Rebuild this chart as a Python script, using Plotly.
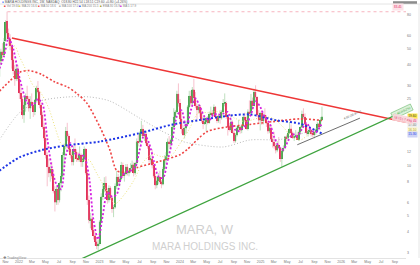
import math
import pandas as pd
import plotly.graph_objects as go

# ---------------- weekly OHLC (weeks starting Monday) ----------------
first_week = "2021-09-27"

open_2021 = [33, 34, 42, 48, 46, 56, 73, 62, 57, 52, 43, 37, 33, 38]
high_2021 = [36, 43, 50, 54, 58, 74, 83.4, 66, 61, 54, 47, 40, 40, 40]
low_2021 = [30, 33, 40, 44, 45, 55, 61, 53, 49, 38, 35, 30, 32, 32]
close_2021 = [34, 42, 48, 46, 55, 72, 62, 57, 52, 43, 37, 33, 38, 33]

open_2022 = [33, 27, 25, 20, 23, 26, 25, 22, 24, 23, 21, 24.5, 29, 27.5, 23, 20, 17, 14.5, 11.5, 9.8,
             9, 9.5, 8.6, 7, 6, 7.2, 6.2, 7.8, 8.6, 11.5, 13, 16, 15, 12.5, 11.5, 10.5, 12.5, 12, 11, 10.8,
             11.5, 10.5, 11, 12.5, 9, 6.2, 4.7, 4.8, 4.1, 3.8, 3.5, 3.3]
high_2022 = [34, 30, 26, 24, 27, 30, 26, 26, 27, 24, 25, 30, 32, 28, 24, 21, 18, 16, 12, 11,
             10, 10.5, 9.5, 7.5, 7.5, 7.5, 8, 9, 12, 13.5, 17, 18, 15.5, 13, 12, 13, 14.5, 12.5, 12, 13,
             11.8, 11.5, 13, 12.7, 9.5, 6.6, 5.2, 5, 4.4, 4, 3.7, 3.6]
low_2022 = [25, 24, 19, 18, 21, 24, 21, 19, 22, 19.5, 20, 24, 27, 22, 19, 16.5, 14, 11, 7.5, 8.5,
            8, 8.3, 6.8, 5.3, 5.8, 5.8, 6, 7, 8.5, 10, 12.5, 14, 12, 11, 10, 10, 11.5, 10.5, 10.5, 10.5,
            9.8, 9.8, 10.6, 8.8, 5.8, 4.5, 4.2, 4, 3.6, 3.3, 3.15, 3.11]
close_2022 = [27, 25, 20, 23, 26, 25, 22, 24, 23, 21, 24.5, 29, 27.5, 23, 20, 17, 14.5, 11.5, 9.8, 9,
              9.5, 8.6, 7, 6, 7.2, 6.2, 7.8, 8.6, 11.5, 13, 16, 15, 12.5, 11.5, 10.5, 12.5, 12, 11, 10.8, 11.5,
              10.5, 11, 12.5, 9, 6.2, 4.7, 4.8, 4.1, 3.8, 3.5, 3.3, 3.4]

open_2023 = [3.4, 4.6, 6.5, 7.2, 7.8, 7, 6.2, 7.3, 6.4, 5.5, 5.6, 7.5, 8.5, 8, 8.3, 10, 8.7, 8.9, 9.8, 9,
             9.3, 9.6, 10.1, 9, 10.3, 13.9, 13.8, 15.7, 16.5, 15, 15.5, 13.6, 13, 10.8, 11, 10, 8.6, 7.6, 8.1, 8.5,
             8, 7.7, 9.5, 10.8, 11.4, 13.9, 13.5, 14.2, 17, 19.5, 21, 26.8]
high_2023 = [4.7, 6.8, 7.8, 8.5, 8.6, 7.3, 7.6, 7.5, 6.6, 5.8, 7.8, 9.3, 8.9, 8.6, 10.5, 10.4, 9.2, 10.2, 10.2, 9.6,
             10.3, 10.7, 10.4, 10.5, 14.5, 15.3, 16, 18.5, 17.5, 16.2, 16, 14.4, 13.1, 11.5, 12.5, 10.2, 9, 8.6, 9, 9.3,
             8.2, 9.8, 11.5, 12, 14.5, 15, 14.5, 17.5, 22, 21.5, 28, 31]
low_2023 = [3.3, 4.5, 6.2, 6.9, 6.8, 5.9, 6, 6.2, 5.2, 4.9, 5.5, 7.2, 7.6, 7.5, 8.2, 8.4, 8, 8.7, 8.7, 8.6,
            9, 9.3, 8.6, 8.8, 10.2, 13, 13.5, 15, 14.5, 14, 13.2, 12.6, 10.4, 10.2, 9.6, 8.4, 7.2, 7.3, 7.7, 7.8,
            7.3, 7.6, 9.2, 10.2, 11, 12.8, 12.5, 14, 16.5, 17.5, 20.5, 22.5]
close_2023 = [4.6, 6.5, 7.2, 7.8, 7, 6.2, 7.3, 6.4, 5.5, 5.6, 7.5, 8.5, 8, 8.3, 10, 8.7, 8.9, 9.8, 9, 9.3,
              9.6, 10.1, 9, 10.3, 13.9, 13.8, 15.7, 16.5, 15, 15.5, 13.6, 13, 10.8, 11, 10, 8.6, 7.6, 8.1, 8.5, 8,
              7.7, 9.5, 10.8, 11.4, 13.9, 13.5, 14.2, 17, 19.5, 21, 26.8, 23.5]

open_2024 = [23.5, 19, 16.5, 15.3, 16.7, 17.7, 22.5, 26, 23.5, 28.5, 25.5, 22.7, 21.5, 22.5, 20.5, 18.5, 17.8, 18.2,
             19.2, 18, 20.3, 20.6, 20.2, 22.4, 19.5, 18.5, 19.8, 19.2, 21, 23.5, 23.5, 19.5, 17, 16.4, 18.2, 15.7,
             14, 15.2, 16.8, 17, 16.2, 17.3, 19.5, 18.6, 16.6, 21, 20.5, 24.4, 22.8, 27.5, 25.6, 20, 18.6]
high_2024 = [25, 21, 17.5, 17, 18.5, 23, 28, 28, 29.5, 33, 27.5, 23.5, 23.3, 23, 22, 19.5, 20, 19.5,
             19.8, 21, 22.5, 21.5, 23.2, 22.7, 20, 20.5, 21.5, 21.5, 25, 27, 24.2, 19.7, 18, 19, 18.6, 16.2,
             15.6, 17.3, 18.7, 17.3, 17.5, 19.9, 20.7, 19.6, 21.7, 24.5, 26.8, 25.5, 28.8, 30.2, 25.9, 21.5, 21]
low_2024 = [18, 15.5, 15, 14.5, 15.5, 17.5, 22, 22.5, 23, 24, 22, 18.8, 20.5, 19.5, 18, 16.5, 17.5, 16,
            17.6, 17.8, 19.5, 19.4, 20, 19, 17.9, 18, 17.8, 18.8, 20.5, 22.6, 19, 15.1, 16, 15.9, 15.5, 13.6,
            13.7, 14.9, 16.2, 15.5, 15.6, 17, 18.2, 16.4, 16.2, 19.8, 20, 21.5, 22.6, 24, 19.5, 18, 16.2]
close_2024 = [19, 16.5, 15.3, 16.7, 17.7, 22.5, 26, 23.5, 28.5, 25.5, 22.7, 21.5, 22.5, 20.5, 18.5, 17.8, 18.2, 19.2,
              18, 20.3, 20.6, 20.2, 22.4, 19.5, 18.5, 19.8, 19.2, 21, 23.5, 23.5, 19.5, 17, 16.4, 18.2, 15.7, 14,
              15.2, 16.8, 17, 16.2, 17.3, 19.5, 18.6, 16.6, 21, 20.5, 24.4, 22.8, 27.5, 25.6, 20, 18.6, 20.5]

open_2025 = [20.5, 18.5, 20, 19.5, 17.9, 16, 16.8, 14.4, 13.8, 13, 12.3, 13.2, 12.7, 11, 12.2, 12.7, 14.9, 14.5,
             15.6, 16.6, 15.7, 14.6, 14.9, 15.2, 14.3, 15.8, 16.9, 20.3, 19.5, 17.6, 15.6, 16, 16.2, 15.4, 15.3,
             15.8, 16.4, 17.8, 17.1, 18.8]
high_2025 = [21.5, 20.5, 22, 20, 18.3, 17.5, 17.5, 15.2, 15.9, 13.6, 14, 14.8, 12.9, 12.8, 13.2, 15, 15.3, 15.9,
             18.2, 17.6, 16, 15.7, 16.3, 15.9, 16.2, 17.3, 21.3, 22, 20.5, 17.9, 16.5, 17.2, 16.5, 16, 16.2,
             16.6, 18.3, 18, 19.5, 22.5]
low_2025 = [17.5, 17.6, 18.5, 17, 15.5, 15.6, 14.2, 12.8, 12.6, 11.8, 12, 12.5, 10.5, 9.8, 12, 12.6, 13.8, 14,
            15.4, 15.4, 14.5, 14, 14.6, 14.2, 14, 15.3, 16.8, 18.9, 17.4, 15.3, 14.9, 15.5, 14.9, 14.8, 14.5,
            15.2, 16, 16.5, 17, 18.5]
close_2025 = [18.5, 20, 19.5, 17.9, 16, 16.8, 14.4, 13.8, 13, 12.3, 13.2, 12.7, 11, 12.2, 12.7, 14.9, 14.5, 15.6,
              16.6, 15.7, 14.6, 14.9, 15.2, 14.3, 15.8, 16.9, 20.3, 19.5, 17.6, 15.6, 16, 16.2, 15.4, 15.3, 15.8,
              16.4, 17.8, 17.1, 18.8, 19.6]

# ---------------- moving averages ----------------
ma_fast_dates = ["2021-10-04", "2021-10-25", "2021-11-15", "2021-12-06", "2021-12-27",
                 "2022-01-17", "2022-02-07", "2022-03-07", "2022-03-28", "2022-04-18", "2022-05-09", "2022-05-30",
                 "2022-06-20", "2022-07-11", "2022-08-01", "2022-08-22", "2022-09-12", "2022-10-03", "2022-10-24",
                 "2022-11-14", "2022-12-05", "2022-12-26",
                 "2023-01-16", "2023-02-06", "2023-02-27", "2023-03-20", "2023-04-10", "2023-05-01", "2023-05-22",
                 "2023-06-12", "2023-07-03", "2023-07-24", "2023-08-14", "2023-09-04", "2023-09-25", "2023-10-16",
                 "2023-11-06", "2023-11-27", "2023-12-18",
                 "2024-01-08", "2024-01-29", "2024-02-19", "2024-03-11", "2024-04-01", "2024-04-22", "2024-05-13",
                 "2024-06-03", "2024-06-24", "2024-07-15", "2024-08-05", "2024-08-26", "2024-09-16", "2024-10-07",
                 "2024-10-28", "2024-11-18", "2024-12-09", "2024-12-30",
                 "2025-01-20", "2025-02-10", "2025-03-03", "2025-03-24", "2025-04-14", "2025-05-05", "2025-05-26",
                 "2025-06-16", "2025-07-07", "2025-07-28", "2025-08-18", "2025-09-08", "2025-09-29", "2025-10-06"]
ma_fast_values = [38, 45, 58, 50, 37,
                  28.6, 23.8, 23, 25, 23.3, 14.6, 9.7, 7.7, 7.2, 11.4, 13.6, 11.8, 11.6, 11.3, 8.7, 4.7, 3.6,
                  5.0, 6.9, 6.5, 6.7, 8.5, 9.1, 9.3, 9.7, 12.5, 15.3, 13.6, 10.7, 8.6, 8.4, 10.7, 14, 19.7,
                  21.4, 17, 21.3, 25.2, 22.5, 19.5, 18.7, 20.3, 20.1, 20.4, 20.9, 17.4, 16, 16.5, 17.6, 20.2, 24.2, 22.4,
                  19.4, 18, 14.8, 13, 12.4, 14, 15.4, 14.9, 16.5, 18, 16.2, 15.8, 17.2, 17.9]

ma_slow_dates = ["2021-10-04", "2021-11-15", "2021-12-13", "2022-01-03", "2022-02-07", "2022-03-07", "2022-04-04",
                 "2022-05-16", "2022-06-13", "2022-07-11", "2022-08-01", "2022-09-12", "2022-10-17", "2022-11-14",
                 "2022-12-19", "2023-01-30", "2023-03-13", "2023-04-24", "2023-06-05", "2023-07-17", "2023-08-28",
                 "2023-10-09", "2023-11-20", "2024-01-01", "2024-02-12", "2024-03-25", "2024-05-06", "2024-06-17",
                 "2024-07-29", "2024-09-09", "2024-10-21", "2024-12-02", "2025-01-13", "2025-02-24", "2025-04-07",
                 "2025-05-19", "2025-06-30", "2025-08-11", "2025-09-22", "2025-10-06"]
ma_slow_values = [40, 52, 52, 45, 36, 30, 28, 22, 17, 13.5, 13, 11, 10.7, 10.8, 9.0, 7.2, 5.9, 6.7, 8.1, 10.4,
                  11.7, 11.3, 11.4, 13.5, 16.5, 20.7, 20.7, 21, 20.3, 19.1, 18.3, 18.9, 19.5, 19.2, 17.3, 15.1,
                  14.2, 15.5, 16.3, 16.6]

ma_mid_dates = ["2021-10-04", "2021-11-20", "2022-01-05", "2022-02-15", "2022-04-15", "2022-06-15", "2022-08-07",
                "2022-09-20", "2022-11-04", "2023-01-03", "2023-02-17", "2023-03-21", "2023-05-01", "2023-06-19",
                "2023-10-02", "2024-01-01", "2024-02-01", "2024-05-02", "2024-08-01", "2024-11-13", "2025-02-26",
                "2025-06-28", "2025-10-06"]
ma_mid_values = [27.8, 32, 36.2, 37, 35, 31.5, 29.6, 27, 23.7, 17.0, 12.4, 9.3, 9.1, 9.7, 10.6, 11.6, 12.4, 15.9,
                 17.0, 17.6, 18.3, 19.0, 18.6]

ma_long_dates = ["2021-10-04", "2022-01-05", "2022-04-05", "2022-08-07", "2022-11-18", "2023-02-17", "2023-07-02",
                 "2023-10-02", "2023-11-29", "2024-01-14", "2024-07-14", "2024-11-13", "2025-03-30", "2025-06-28",
                 "2025-10-06"]
ma_long_values = [14.2, 20.8, 24.3, 25.7, 25.7, 24.3, 19.2, 16.3, 14.9, 13.9, 12.9, 14.2, 14.3, 15.4, 17.0]

ma_vlong_dates = ["2021-10-04", "2022-01-05", "2022-04-18", "2022-08-07", "2023-01-03", "2023-07-02", "2023-11-29",
                  "2024-03-30", "2024-08-01", "2024-11-13", "2025-03-16", "2025-06-28", "2025-10-06"]
ma_vlong_values = [9.3, 11.2, 12.4, 13.2, 13.9, 15.6, 17.6, 18.7, 19.8, 20.2, 18.6, 17.8, 15.5]

# ---------------- drawn trend lines (anchor points) ----------------
res_dates = ["2021-11-30", "2026-10-22"]
res_values = [58.0, 18.15]
sup_dates = ["2022-09-21", "2026-10-22"]
sup_values = [2.68, 21.4]
chan_dates = ["2025-06-16", "2026-03-27"]
chan_values = [13.3, 19.2]
ath_dates = ["2021-11-10", "2026-10-22"]
ath_values = [83.3, 83.3]

# ---------------- axis ticks / labels ----------------
xtick_dates = ["2021-11-01",
               "2022-01-01", "2022-03-01", "2022-05-01", "2022-07-01", "2022-09-01", "2022-11-01",
               "2023-01-01", "2023-03-01", "2023-05-01", "2023-07-01", "2023-09-01", "2023-11-01",
               "2024-01-01", "2024-03-01", "2024-05-01", "2024-07-01", "2024-09-01", "2024-11-01",
               "2025-01-01", "2025-03-01", "2025-05-01", "2025-07-01", "2025-09-01", "2025-11-01",
               "2026-01-01", "2026-03-01", "2026-05-01", "2026-07-01", "2026-09-01", "2026-11-01"]
xtick_text = ["Nov",
              "2022", "Mar", "May", "Jul", "Sep", "Nov",
              "2023", "Mar", "May", "Jul", "Sep", "Nov",
              "2024", "Mar", "May", "Jul", "Sep", "Nov",
              "2025", "Mar", "May", "Jul", "Sep", "Nov",
              "2026", "Mar", "May", "Jul", "Sep", "Nov"]
ytick_vals = [3, 4, 5, 6, 8, 10, 12, 25, 30, 40, 50, 60, 80]

price_label_values = [19.6, 18.45, 17.4, 16.1, 15.3]
price_label_bg = ["#FFE94D", "#FBD3DE", "#EEEEEE", "#FFF8C8", "#CDD2F5"]
price_label_fg = ["#333333", "#E0245A", "#777777", "#A09A50", "#1E3AE8"]

legend_labels = ["Vol 19.60", "MA 20 16.6", "MA 50 18.6", "MA 100 17.0", "MA 200 15.5", "EMA 30 16.9", "MA 5 17.9"]
legend_colors = ["#E53935", "#E8D84A", "#EF4444", "#AAAAAA", "#2138E0", "#9E9D24", "#D42AD8"]
legend_px = [2, 17, 36, 57, 77, 98, 118]

# ---------------- build ----------------
opens = open_2021 + open_2022 + open_2023 + open_2024 + open_2025
highs = high_2021 + high_2022 + high_2023 + high_2024 + high_2025
lows = low_2021 + low_2022 + low_2023 + low_2024 + low_2025
closes = close_2021 + close_2022 + close_2023 + close_2024 + close_2025
dates = pd.date_range(first_week, periods=len(closes), freq="W-MON")

up_x, up_b, up_h, dn_x, dn_b, dn_h = [], [], [], [], [], []
for d, o, c in zip(dates, opens, closes):
    lo, hi = min(o, c), max(o, c)
    if c >= o:
        up_x.append(d); up_b.append(lo); up_h.append(max(hi - lo, lo * 0.01))
    else:
        dn_x.append(d); dn_b.append(lo); dn_h.append(max(hi - lo, lo * 0.01))

fig = go.Figure()

# candle wicks (pale)
fig.add_trace(go.Candlestick(
    x=dates, open=opens, high=highs, low=lows, close=closes,
    increasing=dict(line=dict(color="rgba(110,185,110,0.45)", width=1), fillcolor="rgba(110,185,110,0.45)"),
    decreasing=dict(line=dict(color="rgba(235,100,130,0.40)", width=1), fillcolor="rgba(235,100,130,0.40)"),
    whiskerwidth=0, hoverinfo="none", showlegend=False))

# moving averages
def ma(xs, ys, color, width, dash):
    fig.add_trace(go.Scatter(x=xs, y=ys, mode="lines", hoverinfo="skip", showlegend=False,
                             line=dict(color=color, width=width, dash=dash, shape="spline", smoothing=0.8)))

ma(ma_long_dates, ma_long_values, "#B8B8B8", 1, "1px,2px")
ma(ma_slow_dates, ma_slow_values, "#EDE27A", 1, "1px,2px")
ma(ma_mid_dates, ma_mid_values, "#EF4444", 1.6, "2px,2px")

# candle bodies
week_ms = 7 * 24 * 3600 * 1000
fig.add_trace(go.Bar(x=up_x, y=up_h, base=up_b, width=week_ms * 0.85, hoverinfo="none", showlegend=False,
                     marker=dict(color="#3E9E47", line=dict(width=0))))
fig.add_trace(go.Bar(x=dn_x, y=dn_h, base=dn_b, width=week_ms * 0.85, hoverinfo="none", showlegend=False,
                     marker=dict(color="#E0234E", line=dict(width=0))))

ma(ma_vlong_dates, ma_vlong_values, "#1E35E6", 2, "2px,2px")
ma(ma_fast_dates, ma_fast_values, "#D420E0", 1.8, "2px,2px")

# trend lines
fig.add_trace(go.Scatter(x=ath_dates, y=ath_values, mode="lines", hoverinfo="skip", showlegend=False,
                         line=dict(color="rgba(240,120,140,0.7)", width=0.8, dash="3px,3px")))
fig.add_trace(go.Scatter(x=res_dates, y=res_values, mode="lines", hoverinfo="skip", showlegend=False,
                         line=dict(color="#EE3636", width=1.6)))
fig.add_trace(go.Scatter(x=sup_dates, y=sup_values, mode="lines", hoverinfo="skip", showlegend=False,
                         line=dict(color="#3EA33E", width=1.3)))
fig.add_trace(go.Scatter(x=chan_dates, y=chan_values, mode="lines", hoverinfo="skip", showlegend=False,
                         line=dict(color="#6E6E6E", width=1)))

annotations = []
# watermark
annotations.append(dict(text="MARA, W", xref="paper", yref="paper", x=0.505, y=0.075, showarrow=False,
                        font=dict(size=13, color="#D0D0D0", family="Liberation Sans")))
annotations.append(dict(text="MARA HOLDINGS INC.", xref="paper", yref="paper", x=0.505, y=0.016, showarrow=False,
                        font=dict(size=10, color="#D0D0D0", family="Liberation Sans")))
# TradingView logo text
annotations.append(dict(text="<b>❖</b>TradingView", xref="paper", yref="paper", x=0.002, y=0.002, xanchor="left",
                        yanchor="middle", showarrow=False, font=dict(size=3.5, color="#888888")))
# header
annotations.append(dict(text="<span style='color:#2962FF'>●</span> MARA HOLDINGS INC, 1W, NASDAQ  O18.80 H22.54 L18.51 C19.60 +0.80 (+4.26%)",
                        xref="paper", yref="paper", x=0.0, y=1.008, xanchor="left", yanchor="middle",
                        showarrow=False, font=dict(size=3.2, color="#555555")))
# indicator legend row
for px, lab, col in zip(legend_px, legend_labels, legend_colors):
    annotations.append(dict(text=f"<span style='color:{col}'>■</span> {lab}", xref="paper", yref="paper",
                            x=px / 406, y=(258 - 6) / 254, xanchor="left", yanchor="middle", showarrow=False,
                            font=dict(size=3, color="#888888")))
# right price labels
for v, bg, fg in zip(price_label_values, price_label_bg, price_label_fg):
    annotations.append(dict(text=f"{v:.2f}", xref="paper", yref="y", x=1.0, y=math.log10(v), xanchor="left",
                            yanchor="middle", xshift=1, showarrow=False, bgcolor=bg, borderpad=0.3,
                            font=dict(size=3.2, color=fg)))
# ATH label
annotations.append(dict(text="83.45", xref="paper", yref="y", x=0.995, y=math.log10(88.5), xanchor="right",
                        yanchor="middle", showarrow=False, bgcolor="#FDE2E8", font=dict(size=3, color="#E0245A")))
# trend line labels
annotations.append(dict(text="21.40 (+9.2%)", x="2026-10-04", y=math.log10(21.0), textangle=-25, showarrow=False,
                        bgcolor="rgba(215,240,215,0.9)", bordercolor="#3EA33E", borderwidth=0.4,
                        font=dict(size=3, color="#3EA33E")))
annotations.append(dict(text="18.15 (-7.4%)", x="2026-10-08", y=math.log10(19.0), textangle=12, showarrow=False,
                        bgcolor="rgba(250,215,220,0.9)", font=dict(size=3, color="#E0245A")))
annotations.append(dict(text="4.90 (36.87%)", x="2026-02-20", y=math.log10(20.0), textangle=-25, showarrow=False,
                        font=dict(size=3, color="#555555")))

fig.update_layout(
    width=420, height=265,
    margin=dict(l=0, r=14, t=4, b=7),
    paper_bgcolor="white", plot_bgcolor="white",
    barmode="overlay", bargap=0, showlegend=False,
    font=dict(family="Liberation Sans", size=4, color="#666666"),
    annotations=annotations,
    shapes=[
        dict(type="line", xref="paper", yref="paper", x0=0, x1=420 / 406, y0=1.0, y1=1.0,
             line=dict(color="#DDDDDD", width=0.8)),
        dict(type="rect", xref="paper", yref="paper", x0=393 / 406, x1=417 / 406, y0=1.001, y1=1.011,
             fillcolor="#8C8C8C", line=dict(width=0)),
        dict(type="line", xref="paper", yref="paper", x0=419 / 406, x1=419 / 406, y0=0, y1=1,
             line=dict(color="#E6E6E6", width=1)),
    ],
    xaxis=dict(type="date", range=["2021-10-07", "2026-10-22"], tickvals=xtick_dates, ticktext=xtick_text,
               tickfont=dict(size=3.5, color="#777777"), showgrid=False, zeroline=False, ticks="",
               showline=True, linecolor="#E3E3E3", linewidth=0.8, rangeslider=dict(visible=False)),
    yaxis=dict(type="log", range=[0.4455, 1.967], side="right", tickvals=ytick_vals,
               ticktext=[str(v) for v in ytick_vals], tickfont=dict(size=3.5, color="#777777"),
               showgrid=False, zeroline=False, ticks=""),
)

fig.write_html("out.html")
